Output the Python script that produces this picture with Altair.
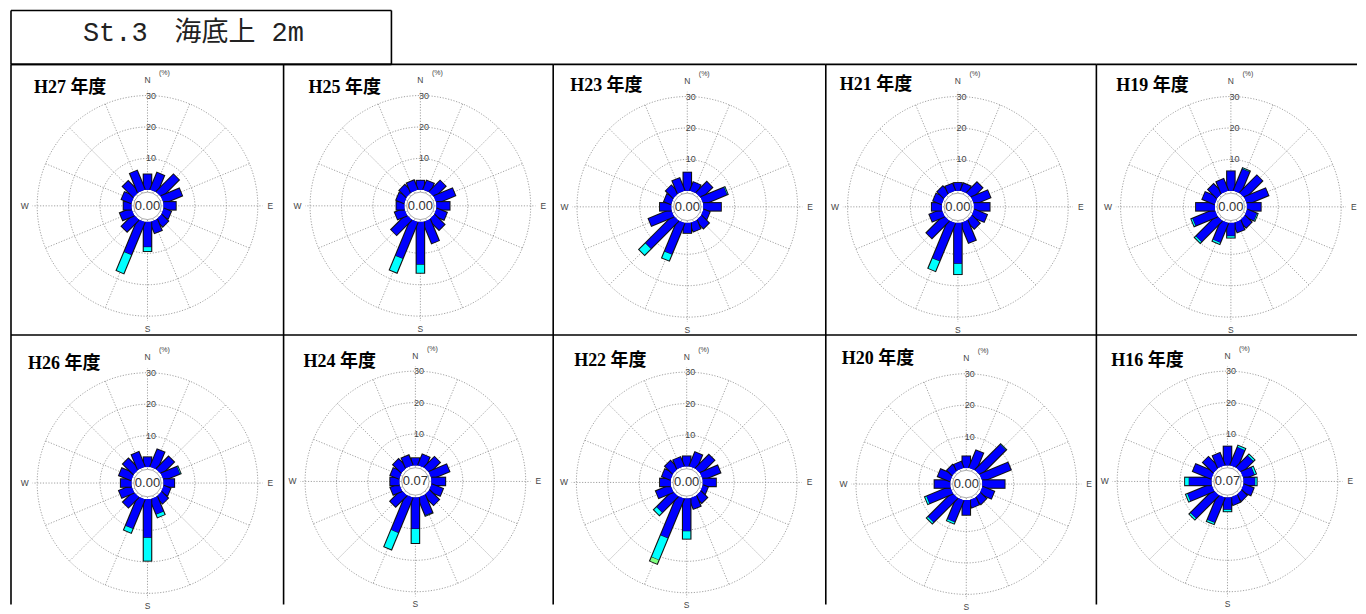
import altair as alt
import numpy as np
import pandas as pd

# ---------------- data ----------------
TITLE = "St.3　海底上 2m"
DIRS = ["N", "NNE", "NE", "ENE", "E", "ESE", "SE", "SSE",
        "S", "SSW", "SW", "WSW", "W", "WNW", "NW", "NNW"]
PANELS = ["H27 年度", "H25 年度", "H23 年度", "H21 年度", "H19 年度",
          "H26 年度", "H24 年度", "H22 年度", "H20 年度", "H16 年度"]
CALM = ["0.00", "0.00", "0.00", "0.00", "0.00",
        "0.00", "0.07", "0.00", "0.00", "0.07"]
RING_VALUES = [10, 20, 30]

# frequency (%) of the slow class (blue) for each of the 16 directions
BLUE_H27 = [4.9, 5.8, 7.8, 6.3, 3.9, 2.5, 3.0, 3.8, 7.9, 11.2, 5.3, 3.9, 2.5, 3.3, 4.8, 6.5]
BLUE_H25 = [2.9, 3.1, 5.0, 6.4, 4.2, 3.5, 4.5, 7.3, 13.5, 12.5, 6.8, 3.2, 2.5, 2.7, 3.1, 3.2]
BLUE_H23 = [5.8, 2.9, 4.9, 8.0, 5.6, 2.1, 3.4, 2.9, 3.2, 10.7, 12.4, 7.7, 3.6, 2.4, 3.3, 4.3]
BLUE_H21 = [2.5, 2.5, 4.7, 5.6, 5.0, 4.4, 3.5, 6.8, 12.9, 13.0, 7.8, 4.2, 3.2, 2.9, 2.9, 2.4]
BLUE_H19 = [6.2, 7.4, 7.8, 7.3, 4.4, 3.3, 3.0, 3.2, 4.1, 6.6, 9.3, 7.5, 6.0, 4.2, 3.9, 4.0]
BLUE_H26 = [3.1, 6.0, 5.6, 5.5, 3.4, 2.3, 2.9, 5.1, 12.2, 10.0, 4.7, 4.2, 3.4, 4.2, 4.7, 5.1]
BLUE_H24 = [2.3, 3.7, 4.7, 6.1, 4.4, 3.9, 4.3, 6.0, 9.9, 12.0, 5.0, 3.0, 2.9, 3.0, 3.7, 3.4]
BLUE_H22 = [3.2, 4.8, 6.1, 6.0, 4.2, 1.7, 2.9, 3.5, 10.3, 13.5, 7.1, 5.0, 3.4, 2.9, 3.4, 3.1]
BLUE_H20 = [3.7, 6.0, 11.4, 9.7, 7.1, 4.0, 2.7, 2.5, 4.7, 7.4, 10.8, 8.0, 5.0, 4.2, 2.3, 2.1]
BLUE_H16 = [6.0, 6.1, 5.2, 3.6, 3.6, 3.4, 2.4, 2.5, 3.8, 8.5, 10.2, 8.1, 7.1, 6.3, 4.7, 4.2]

# frequency (%) of the middle class (cyan)
CYAN_H27 = [0, 0, 0, 0, 0, 0, 0, 0, 1.4, 6.4, 0, 0, 0, 0, 0, 0]
CYAN_H25 = [0, 0, 0, 0, 0, 0, 0, 0, 2.7, 4.9, 0, 0, 0, 0, 0, 0]
CYAN_H23 = [0, 0, 0, 0.3, 0, 0, 0, 0, 0, 2.2, 2.9, 0, 0, 0, 0, 0]
CYAN_H21 = [0, 0, 0, 0, 0, 0, 0, 0, 3.4, 3.5, 0, 0, 0, 0, 0, 0]
CYAN_H19 = [0, 0.3, 0, 0, 0, 0.3, 0, 0, 0.6, 0.6, 0.6, 0.5, 0, 0, 0, 0]
CYAN_H26 = [0, 0, 0, 0.3, 0, 0, 0, 1.1, 7.4, 1.5, 0, 0, 0, 0, 0, 0]
CYAN_H24 = [0, 0, 0, 0, 0, 0, 0, 0.2, 4.6, 5.8, 0, 0, 0, 0, 0, 0]
CYAN_H22 = [0, 0, 0, 0, 0, 0, 0, 0, 2.5, 7.5, 1.3, 0, 0, 0, 0, 0]
CYAN_H20 = [0, 0, 0.2, 0, 0, 0, 0, 0, 0, 0.6, 0.6, 0.6, 0, 0, 0, 0]
CYAN_H16 = [0, 0.6, 0.6, 0.6, 0.6, 0, 0, 0, 0.6, 0.6, 0.6, 0.6, 1.3, 0, 0, 0]

# frequency (%) of the fast class (green)
GREEN_H22 = [0, 0, 0, 0, 0, 0, 0, 0, 0, 1.4, 0, 0, 0, 0, 0, 0]

BLUE = [BLUE_H27, BLUE_H25, BLUE_H23, BLUE_H21, BLUE_H19,
        BLUE_H26, BLUE_H24, BLUE_H22, BLUE_H20, BLUE_H16]
CYAN = [CYAN_H27, CYAN_H25, CYAN_H23, CYAN_H21, CYAN_H19,
        CYAN_H26, CYAN_H24, CYAN_H22, CYAN_H20, CYAN_H16]
ZERO = [0] * 16
GREEN = [ZERO, ZERO, ZERO, ZERO, ZERO, ZERO, ZERO, GREEN_H22, ZERO, ZERO]

# ---------------- layout ----------------
COL_W = [273, 270, 273, 271, 261]
ROW_H = [271, 270]
K = 3.15                 # px per percent
R0 = 16 / K              # radius of the calm circle, in percent units
CENTERS = [(136.7, 141.7), (137, 141.7), (134.3, 142.7), (132.3, 142.7), (134.7, 142.7),
           (136.7, 148.3), (132, 146.7), (133.7, 147.7), (140.7, 149.3), (131.3, 146.7)]
LABEL_POS = [(23, 24), (25, 24), (17, 22), (14, 21), (20, 22),
             (17, 29), (20, 27), (21, 26), (16, 24.5), (15, 26.5)]
BORDER_W = 1.6

SANS = "Liberation Sans, Arial, sans-serif"
SERIF = "Liberation Serif, Noto Sans CJK JP, serif"
GRID = "#8a8a8a"
TXT = "#444444"

COLOR_SCALE = alt.Scale(domain=["o", "b", "c", "g"],
                        range=["#111111", "#0000ff", "#00ffff", "#80ff80"])

XPOS = "({r})*sin(datum.a*PI/180)"
YPOS = "({r})*cos(datum.a*PI/180)"

ONE = pd.DataFrame({"k": [0]})


def border(x=None, x2=None, y=None, y2=None):
    enc = {}
    for name, val in (("x", x), ("x2", x2), ("y", y), ("y2", y2)):
        if val is not None:
            enc[name] = alt.value(val)
    return alt.Chart(ONE).mark_rule(color="black", strokeWidth=BORDER_W).encode(**enc)


def panel(i):
    W = COL_W[i % 5]
    H = ROW_H[i // 5]
    cx, cy = CENTERS[i]
    xs = alt.Scale(domain=[-cx / K, (W - cx) / K], nice=False, zero=False)
    ys = alt.Scale(domain=[-(H - cy) / K, cy / K], nice=False, zero=False)

    def X(f):
        return alt.X(f, type="quantitative", scale=xs, axis=None)

    def Y(f):
        return alt.Y(f, type="quantitative", scale=ys, axis=None)

    # rings
    ring_df = pd.DataFrame([(v, a) for v in RING_VALUES for a in range(0, 361, 3)],
                           columns=["v", "a"])
    rings = alt.Chart(ring_df).transform_calculate(
        px=XPOS.format(r=f"{R0}+datum.v"), py=YPOS.format(r=f"{R0}+datum.v")
    ).mark_line(color=GRID, strokeWidth=0.8, strokeDash=[1.2, 1.6]).encode(
        x=X("px"), y=Y("py"), detail="v:N", order="a:Q")

    # spokes
    spoke_df = pd.DataFrame({"a": np.arange(16) * 22.5,
                             "len": [31.5 if d % 4 == 0 else 30 for d in range(16)]})
    spokes = alt.Chart(spoke_df).transform_calculate(
        x1="0", y1="0",
        x2=XPOS.format(r=f"{R0}+datum.len"), y2=YPOS.format(r=f"{R0}+datum.len")
    ).mark_rule(color=GRID, strokeWidth=0.8, strokeDash=[1.2, 1.6]).encode(
        x=X("x1"), y=Y("y1"), x2="x2:Q", y2="y2:Q")

    # bars: each direction drawn as outline then fills, in sequence
    rows = []
    seq = 0
    for d in range(16):
        b, c, g = BLUE[i][d], CYAN[i][d], GREEN[i][d]
        a = d * 22.5
        rows.append((seq, a, 0, b + c + g + 0.3, "o", 9.6)); seq += 1
        rows.append((seq, a, 0, b, "b", 7.4)); seq += 1
        if c > 0:
            rows.append((seq, a, b + 0.15, b + c, "c", 7.4)); seq += 1
        if g > 0:
            rows.append((seq, a, b + c + 0.15, b + c + g, "g", 7.4)); seq += 1
    seg_df = pd.DataFrame(rows, columns=["seq", "a", "s", "e", "cls", "w"])

    bars = alt.Chart(seg_df).transform_calculate(
        x1=XPOS.format(r=f"{R0}+datum.s"), y1=YPOS.format(r=f"{R0}+datum.s"),
        x2=XPOS.format(r=f"{R0}+datum.e"), y2=YPOS.format(r=f"{R0}+datum.e")
    ).mark_rule(strokeCap="butt").encode(
        x=X("x1"), y=Y("y1"), x2="x2:Q", y2="y2:Q",
        color=alt.Color("cls:N", scale=COLOR_SCALE, legend=None),
        strokeWidth=alt.StrokeWidth("w:Q", scale=None, legend=None),
        order=alt.Order("seq:Q"))

    # calm circle
    hole_df = pd.DataFrame({"x": [0.0], "y": [0.0], "t": [CALM[i]]})
    hole = alt.Chart(hole_df).mark_point(
        shape="circle", filled=True, fill="white", stroke="#777777", strokeWidth=0.6,
        size=float(np.pi * 15.5 ** 2), opacity=1).encode(x=X("x"), y=Y("y"))
    calm = alt.Chart(hole_df).mark_text(
        font=SANS, fontSize=13, color="#333333", align="center", baseline="middle"
    ).encode(x=X("x"), y=Y("y"), text="t:N")

    # ring labels
    rl_df = pd.DataFrame({"v": RING_VALUES, "t": [str(v) for v in RING_VALUES]})
    ring_lbl = alt.Chart(rl_df).transform_calculate(
        px=f"{3.5 / K}", py=f"{R0}+datum.v"
    ).mark_text(font=SANS, fontSize=9, color=TXT, align="center", baseline="middle").encode(
        x=X("px"), y=Y("py"), text="t:N")

    # compass letters
    cp_df = pd.DataFrame({"t": ["N", "S", "W", "E", "(%)"],
                          "x": [0, 0, -123 / K, 123 / K, 17 / K],
                          "y": [126 / K, -123 / K, 0, 0, 133 / K],
                          "fs": [8.5, 8.5, 8.5, 8.5, 7]})
    compass = alt.Chart(cp_df).mark_text(
        font=SANS, color=TXT, align="center", baseline="middle").encode(
        x=X("x"), y=Y("y"), text="t:N", size=alt.Size("fs:Q", scale=None, legend=None))

    # panel title
    lx, ly = LABEL_POS[i]
    ttl = alt.Chart(pd.DataFrame({"t": [PANELS[i]]})).mark_text(
        font=SERIF, fontSize=18, fontWeight="bold", color="black",
        align="left", baseline="middle").encode(
        x=alt.value(lx), y=alt.value(ly), text="t:N")

    # cell borders: left and top (the right edge of the last column and the
    # bottom of the second row run off the page in the reference)
    left = border(x=0, y=0, y2=H)
    top = border(x=0, x2=W, y=0)

    return alt.layer(rings, spokes, bars, hole, calm, ring_lbl, compass, ttl, left, top
                     ).properties(width=W, height=H)


TW, TH = 381, 54
title_chart = alt.layer(
    alt.Chart(pd.DataFrame({"t": [TITLE]})).mark_text(
        font="Liberation Mono, Noto Sans CJK JP, monospace", fontSize=27, color="#222222",
        align="left", baseline="middle").encode(
        x=alt.value(72), y=alt.value(23), text="t:N"),
    border(x=0, y=0, y2=TH), border(x=TW, y=0, y2=TH),
    border(x=0, x2=TW, y=0), border(x=0, x2=TW, y=TH),
).properties(width=TW, height=TH)

grid = alt.concat(*[panel(i) for i in range(10)], columns=5, spacing=0,
                  bounds="flush", align="each")

chart = alt.vconcat(title_chart, grid, spacing=0, bounds="flush").properties(
    padding={"left": 2, "top": 1, "right": 0, "bottom": 0},
    background="white"
).configure_view(stroke="transparent", strokeWidth=0)

chart.save("out.html", embed_options={"renderer": "svg", "actions": False})
